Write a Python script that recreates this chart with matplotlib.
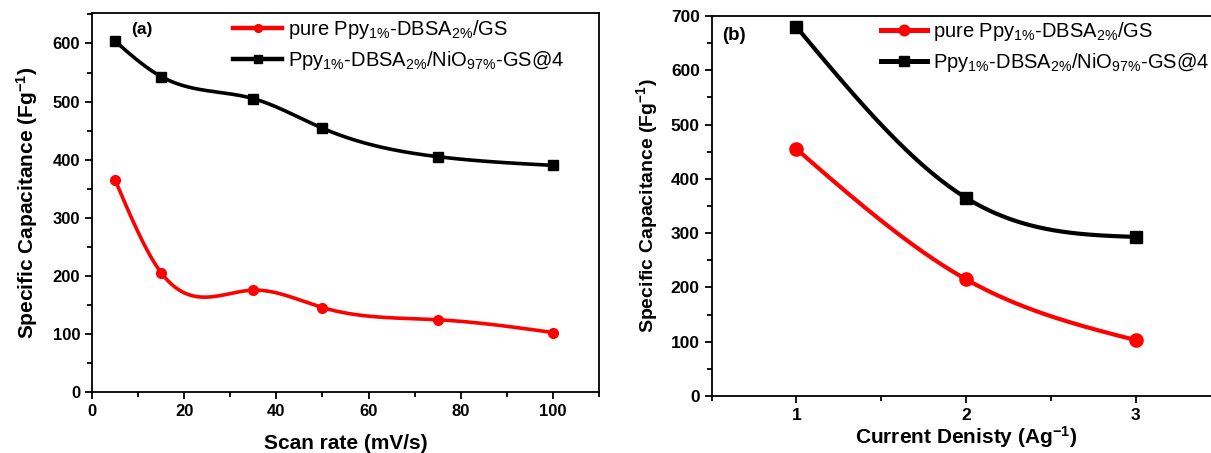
import numpy as np
import matplotlib
matplotlib.use("Agg")
import matplotlib.pyplot as plt
from matplotlib.ticker import MultipleLocator

plt.rcParams["font.family"] = ["Liberation Sans", "DejaVu Sans"]
plt.rcParams["mathtext.fontset"] = "custom"
plt.rcParams["mathtext.rm"] = "Liberation Sans"
plt.rcParams["mathtext.it"] = "Liberation Sans:italic"
plt.rcParams["mathtext.bf"] = "Liberation Sans:bold"

# (a) capacitance vs scan rate
scan_rate = [5, 15, 35, 50, 75, 100]
cap_pure_a = [365, 205, 175, 145, 124, 102]
cap_nio_a = [604, 543, 505, 454, 405, 390]

# (b) capacitance vs current density
current_density = [1, 2, 3]
cap_pure_b = [455, 215, 103]
cap_nio_b = [680, 365, 293]

label_pure = r"pure Ppy$_{\mathrm{1\%}}$-DBSA$_{\mathrm{2\%}}$/GS"
label_nio = r"Ppy$_{\mathrm{1\%}}$-DBSA$_{\mathrm{2\%}}$/NiO$_{\mathrm{97\%}}$-GS@4"
ylab = r"Specific Capacitance (Fg$^{\mathbf{-1}}$)"


def natural_spline(x, y, n=300):
    x = np.asarray(x, float)
    y = np.asarray(y, float)
    k = len(x)
    h = np.diff(x)
    A = np.zeros((k, k))
    r = np.zeros(k)
    A[0, 0] = A[-1, -1] = 1.0
    for i in range(1, k - 1):
        A[i, i - 1] = h[i - 1]
        A[i, i] = 2 * (h[i - 1] + h[i])
        A[i, i + 1] = h[i]
        r[i] = 6 * ((y[i + 1] - y[i]) / h[i] - (y[i] - y[i - 1]) / h[i - 1])
    M = np.linalg.solve(A, r)
    xs = np.linspace(x[0], x[-1], n)
    idx = np.clip(np.searchsorted(x, xs) - 1, 0, k - 2)
    x0, x1 = x[idx], x[idx + 1]
    hh = x1 - x0
    a = (x1 - xs) / hh
    b = (xs - x0) / hh
    ys = (a * y[idx] + b * y[idx + 1]
          + ((a ** 3 - a) * M[idx] + (b ** 3 - b) * M[idx + 1]) * hh ** 2 / 6)
    return xs, ys


def draw_series(ax, x, y, color, marker, ms, lw, label):
    xs, ys = natural_spline(x, y)
    ax.plot(xs, ys, color=color, lw=lw, solid_capstyle="round")
    ax.plot(x, y, ls="none", marker=marker, ms=ms, color=color)
    ax.plot([], [], color=color, lw=lw + 0.6, marker=marker, ms=ms * 0.8, label=label)


def style_axes(ax, tick_size):
    for s in ax.spines.values():
        s.set_linewidth(1.3)
    ax.tick_params(which="both", direction="out", top=False, right=False,
                   width=1.3, labelsize=tick_size)
    ax.tick_params(which="major", length=5)
    ax.tick_params(which="minor", length=3.5)
    for t in ax.get_xticklabels() + ax.get_yticklabels():
        t.set_fontweight("bold")


fig = plt.figure(figsize=(12.11, 4.53), dpi=100)

# panel (a)
ax1 = fig.add_axes([0.0760, 0.1353, 0.4186, 0.8353])
draw_series(ax1, scan_rate, cap_pure_a, "#ff0000", "o", 7, 2.6, label_pure)
draw_series(ax1, scan_rate, cap_nio_a, "black", "s", 7, 2.6, label_nio)
ax1.set_xlim(0, 110)
ax1.set_ylim(0, 652)
ax1.xaxis.set_major_locator(MultipleLocator(20))
ax1.xaxis.set_minor_locator(MultipleLocator(10))
ax1.yaxis.set_major_locator(MultipleLocator(100))
ax1.yaxis.set_minor_locator(MultipleLocator(50))
style_axes(ax1, 12)
ax1.set_xlabel("Scan rate (mV/s)", fontsize=15, fontweight="bold", labelpad=11)
ax1.set_ylabel(ylab, fontsize=15, fontweight="bold", labelpad=9)
ax1.text(0.078, 0.976, "(a)", transform=ax1.transAxes, fontsize=12.5,
         fontweight="bold", va="top", ha="left")
ax1.legend(loc="upper left", bbox_to_anchor=(0.27, 0.997), frameon=False,
           fontsize=14.5, handlelength=2.45, handletextpad=0.3,
           labelspacing=0.38, borderaxespad=0, borderpad=0.2)

# panel (b)
ax2 = fig.add_axes([0.5876, 0.1258, 0.4202, 0.8389])
draw_series(ax2, current_density, cap_pure_b, "#ff0000", "o", 9.5, 3.0, label_pure)
draw_series(ax2, current_density, cap_nio_b, "black", "s", 9, 3.0, label_nio)
ax2.set_xlim(0.5, 3.5)
ax2.set_ylim(0, 700)
ax2.xaxis.set_major_locator(MultipleLocator(1))
ax2.xaxis.set_minor_locator(MultipleLocator(0.5))
ax2.yaxis.set_major_locator(MultipleLocator(100))
ax2.yaxis.set_minor_locator(MultipleLocator(50))
style_axes(ax2, 12.5)
ax2.set_xlabel(r"Current Denisty (Ag$^{\mathbf{-1}}$)", fontsize=15,
               fontweight="bold", labelpad=1)
ax2.set_ylabel(ylab, fontsize=14, fontweight="bold", labelpad=8)
ax2.text(0.02, 0.972, "(b)", transform=ax2.transAxes, fontsize=13.5,
         fontweight="bold", va="top", ha="left")
ax2.legend(loc="upper left", bbox_to_anchor=(0.325, 1.0), frameon=False,
           fontsize=14.5, handlelength=2.3, handletextpad=0.3,
           labelspacing=0.38, borderaxespad=0, borderpad=0.2)

fig.savefig("out.png", dpi=100)
